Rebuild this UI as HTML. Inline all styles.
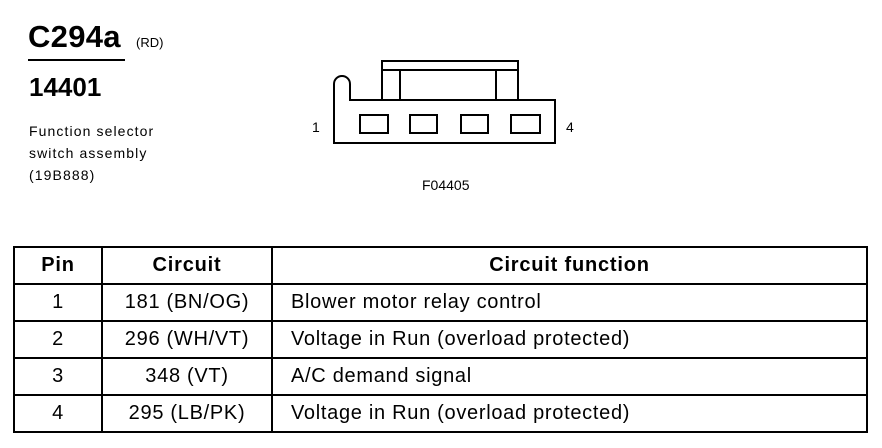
<!DOCTYPE html>
<html><head><style>
body{margin:0;width:882px;height:448px;background:#fff;overflow:hidden;position:relative;font-family:"Liberation Sans",Arial,sans-serif;color:#000}
.a{position:absolute;white-space:nowrap}
table{position:absolute;left:13px;top:246px;border-collapse:collapse;font-size:20px;letter-spacing:0.7px}
td{border:2px solid #000;height:35px;padding:0}
</style></head><body>
<div class="a" style="left:28px;top:19px;font-size:31px;font-weight:bold;letter-spacing:0.3px">C294a</div>
<div class="a" style="left:136px;top:35px;font-size:13px">(RD)</div>
<div style="position:absolute;left:28px;top:59px;width:97px;height:2px;background:#000"></div>
<div class="a" style="left:29px;top:72px;font-size:26px;font-weight:bold">14401</div>
<div class="a" style="left:29px;top:120px;font-size:14px;line-height:22px;letter-spacing:1.1px">Function selector<br>switch assembly<br>(19B888)</div>
<svg style="position:absolute;left:0;top:0" width="882" height="448">
<g fill="none" stroke="#000" stroke-width="2">
<path d="M334,143 L334,84 A8,8 0 0 1 350,84 L350,100 L555,100 L555,143 Z"/>
<rect x="382" y="61" width="136" height="39"/>
<line x1="382" y1="70" x2="518" y2="70"/>
<line x1="400" y1="70" x2="400" y2="100"/>
<line x1="496" y1="70" x2="496" y2="100"/>
<rect x="360" y="115" width="28" height="18"/>
<rect x="410" y="115" width="27" height="18"/>
<rect x="461" y="115" width="27" height="18"/>
<rect x="511" y="115" width="29" height="18"/>
</g>
<text x="312" y="132" font-size="14" font-family="Liberation Sans">1</text>
<text x="566" y="132" font-size="14" font-family="Liberation Sans">4</text>
<text x="422" y="190" font-size="14" font-family="Liberation Sans">F04405</text>
</svg>
<table>
<tr style="font-weight:bold;letter-spacing:0.8px"><td style="width:86px;text-align:center">Pin</td><td style="width:168px;text-align:center">Circuit</td><td style="width:593px;text-align:center">Circuit function</td></tr>
<tr><td style="text-align:center">1</td><td style="text-align:center">181 (BN/OG)</td><td style="padding-left:18px">Blower motor relay control</td></tr>
<tr><td style="text-align:center">2</td><td style="text-align:center">296 (WH/VT)</td><td style="padding-left:18px">Voltage in Run (overload protected)</td></tr>
<tr><td style="text-align:center">3</td><td style="text-align:center">348 (VT)</td><td style="padding-left:18px">A/C demand signal</td></tr>
<tr><td style="text-align:center">4</td><td style="text-align:center">295 (LB/PK)</td><td style="padding-left:18px">Voltage in Run (overload protected)</td></tr>
</table>
</body></html>
